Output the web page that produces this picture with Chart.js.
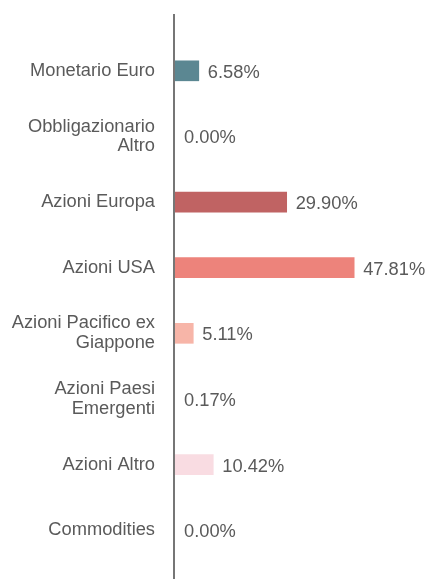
<!DOCTYPE html>
<html lang="it">
<head>
    <meta charset="utf-8"/>
    <title>Asset allocation</title>
    <style>
        * {
            margin: 0;
            padding: 0;
            box-sizing: border-box;
        }

        body {
            background: #ffffff;
        }

        .chart-box {
            position: relative;
            width: 425px;
            height: 579px;
        }
    </style>
</head>
<body>
    <div class="chart-box">
        <canvas id="allocation"></canvas>
    </div>
    <script src="https://cdn.jsdelivr.net/npm/chart.js@4.4.0/dist/chart.umd.min.js"></script>
    <script>
        // categories (multi-line ones as arrays)
        const categories = [
            "Monetario Euro",
            ["Obbligazionario", "Altro"],
            "Azioni Europa",
            "Azioni USA",
            ["Azioni Pacifico ex", "Giappone"],
            ["Azioni Paesi", "Emergenti"],
            "Azioni Altro",
            "Commodities"
        ];
        const weights = [6.58, 0.00, 29.90, 47.81, 5.11, 0.17, 10.42, 0.00];
        const barColors = [
            "#5b8792", "#8aa9b0", "#c06363", "#ed837b",
            "#f7b5a8", "#f3c6c0", "#f9dce2", "#d9d9d9"
        ];

        const textColor = "#5a5a5a";
        const fontFamily = "'Liberation Sans', Arial, sans-serif";
        const fontSize = 18.3;

        // vertical axis line, running past the plot area
        const axisLine = {
            id: "axisLine",
            afterDatasetsDraw(chart) {
                const ctx = chart.ctx;
                const x = chart.scales.x.getPixelForValue(0);
                ctx.save();
                ctx.strokeStyle = "#767676";
                ctx.lineWidth = 2;
                ctx.beginPath();
                ctx.moveTo(x, 14);
                ctx.lineTo(x, chart.height);
                ctx.stroke();
                ctx.restore();
            }
        };

        // percentage next to every bar
        const valueLabels = {
            id: "valueLabels",
            afterDatasetsDraw(chart) {
                const ctx = chart.ctx;
                const meta = chart.getDatasetMeta(0);
                ctx.save();
                ctx.font = fontSize + "px " + fontFamily;
                ctx.fillStyle = textColor;
                ctx.textAlign = "left";
                ctx.textBaseline = "middle";
                meta.data.forEach((bar, i) => {
                    const x = Math.max(bar.x, bar.base + 1);
                    ctx.fillText(weights[i].toFixed(2) + "%", x + 9, bar.y + 2);
                });
                ctx.restore();
            }
        };

        new Chart(document.getElementById("allocation"), {
            type: "bar",
            data: {
                labels: categories,
                datasets: [{
                    data: weights,
                    backgroundColor: barColors,
                    borderWidth: 0,
                    barThickness: 20
                }]
            },
            options: {
                indexAxis: "y",
                responsive: true,
                maintainAspectRatio: false,
                animation: false,
                layout: {
                    padding: { top: 38, bottom: 16, left: 0, right: 0 }
                },
                scales: {
                    x: {
                        display: false,
                        min: 0,
                        max: 66.6
                    },
                    y: {
                        afterFit(scale) {
                            scale.width = 174;
                            // label padding would otherwise push the plot up
                            scale.paddingTop = 0;
                            scale.paddingBottom = 0;
                        },
                        grid: { display: false, drawTicks: false },
                        border: { display: false },
                        ticks: {
                            autoSkip: false,
                            padding: 19,
                            color: textColor,
                            font: { family: fontFamily, size: fontSize, lineHeight: 1.08 }
                        }
                    }
                },
                plugins: {
                    legend: { display: false },
                    tooltip: { enabled: false }
                }
            },
            plugins: [axisLine, valueLabels]
        });
    </script>
</body>
</html>
